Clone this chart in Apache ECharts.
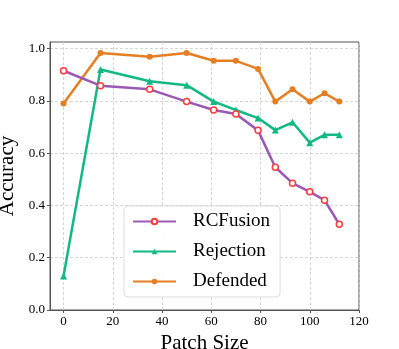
<!DOCTYPE html>
<html>
<head>
<meta charset="utf-8">
<script src="https://cdn.jsdelivr.net/npm/echarts@6/dist/echarts.min.js"></script>
<style>
    html, body { margin: 0; padding: 0; background: #fff; }
    #chart { width: 399px; height: 349px; }
</style>
</head>
<body>
<div id="chart"></div>
<script>
// patch sizes
var patchSize = [0, 15, 35, 50, 61, 70, 79, 86, 93, 100, 106, 112];
// accuracy per method
var rcfusion = [0.915, 0.858, 0.844, 0.797, 0.765, 0.750, 0.687, 0.546, 0.485, 0.452, 0.420, 0.328];
var rejection = [0.130, 0.920, 0.875, 0.860, 0.797, 0.765, 0.734, 0.688, 0.718, 0.640, 0.670, 0.670];
var defended = [0.790, 0.983, 0.969, 0.983, 0.953, 0.953, 0.922, 0.797, 0.844, 0.797, 0.829, 0.797];
var xTicks = [0, 20, 40, 60, 80, 100, 120];
var yTicks = [0, 0.2, 0.4, 0.6, 0.8, 1.0];

function pairs(ys) {
    return patchSize.map(function (x, i) { return [x, ys[i]]; });
}

var font = '"Liberation Serif", "DejaVu Serif", serif';
var chart = echarts.init(document.getElementById('chart'));

var option = {
    animation: false,
    grid: {
        left: 50, right: 40, top: 42, bottom: 39,
        outerBoundsMode: 'none',
        containLabel: false,
        show: true,
        borderColor: '#555',
        borderWidth: 1
    },
    legend: {
        orient: 'vertical',
        left: 124,
        top: 206,
        padding: [5, 10, 5, 8],
        itemWidth: 43,
        itemHeight: 7,
        itemGap: 9,
        backgroundColor: 'rgba(255,255,255,0.9)',
        borderColor: '#ddd',
        borderWidth: 1,
        borderRadius: 4,
        textStyle: {
            fontFamily: font,
            fontSize: 19,
            color: '#000',
            lineHeight: 21,
            padding: [0, 0, 0, 12]
        },
        data: ['RCFusion', 'Rejection', 'Defended']
    },
    xAxis: {
        type: 'value',
        min: -5.5,
        max: 120,
        splitNumber: 6,
        name: 'Patch Size',
        nameLocation: 'middle',
        nameGap: 13,
        nameTextStyle: { fontFamily: font, fontSize: 21, color: '#000', verticalAlign: 'top' },
        axisLine: { onZero: false, lineStyle: { color: '#555', width: 1 } },
        axisTick: { show: true, length: 3, customValues: xTicks, lineStyle: { color: '#555' } },
        axisLabel: { customValues: xTicks, fontFamily: font, fontSize: 13, color: '#000', margin: 5 },
        splitLine: { show: true, lineStyle: { color: '#ccc', type: [3, 2], width: 0.8 } }
    },
    yAxis: {
        type: 'value',
        min: 0,
        max: 1.025,
        splitNumber: 5,
        name: 'Accuracy',
        nameLocation: 'middle',
        nameGap: 30,
        nameTextStyle: { fontFamily: font, fontSize: 21, color: '#000' },
        axisLine: { show: true, onZero: false, lineStyle: { color: '#555', width: 1 } },
        axisTick: { show: true, length: 3, customValues: yTicks, lineStyle: { color: '#555' } },
        axisLabel: {
            customValues: yTicks,
            fontFamily: font, fontSize: 13, color: '#000', margin: 5,
            formatter: function (v) { return v.toFixed(1); }
        },
        splitLine: { show: true, lineStyle: { color: '#ccc', type: [3, 2], width: 0.8 } }
    },
    series: [{
        name: 'RCFusion',
        type: 'line',
        data: pairs(rcfusion),
        symbol: 'circle',
        symbolSize: 6,
        color: '#9b59b6',
        lineStyle: { width: 2.5, color: '#9b59b6' },
        itemStyle: { color: '#fff', borderColor: '#ff3b3b', borderWidth: 1.5 },
        z: 3
    }, {
        name: 'Rejection',
        type: 'line',
        data: pairs(rejection),
        symbol: 'triangle',
        symbolSize: 7,
        color: '#12b886',
        lineStyle: { width: 2.5, color: '#12b886' },
        itemStyle: { color: '#12b886' },
        z: 2
    }, {
        name: 'Defended',
        type: 'line',
        data: pairs(defended),
        symbol: 'circle',
        symbolSize: 6,
        color: '#e67e22',
        lineStyle: { width: 2.5, color: '#e67e22' },
        itemStyle: { color: '#e67e22' },
        z: 1
    }]
};

chart.setOption(option);
</script>
</body>
</html>
